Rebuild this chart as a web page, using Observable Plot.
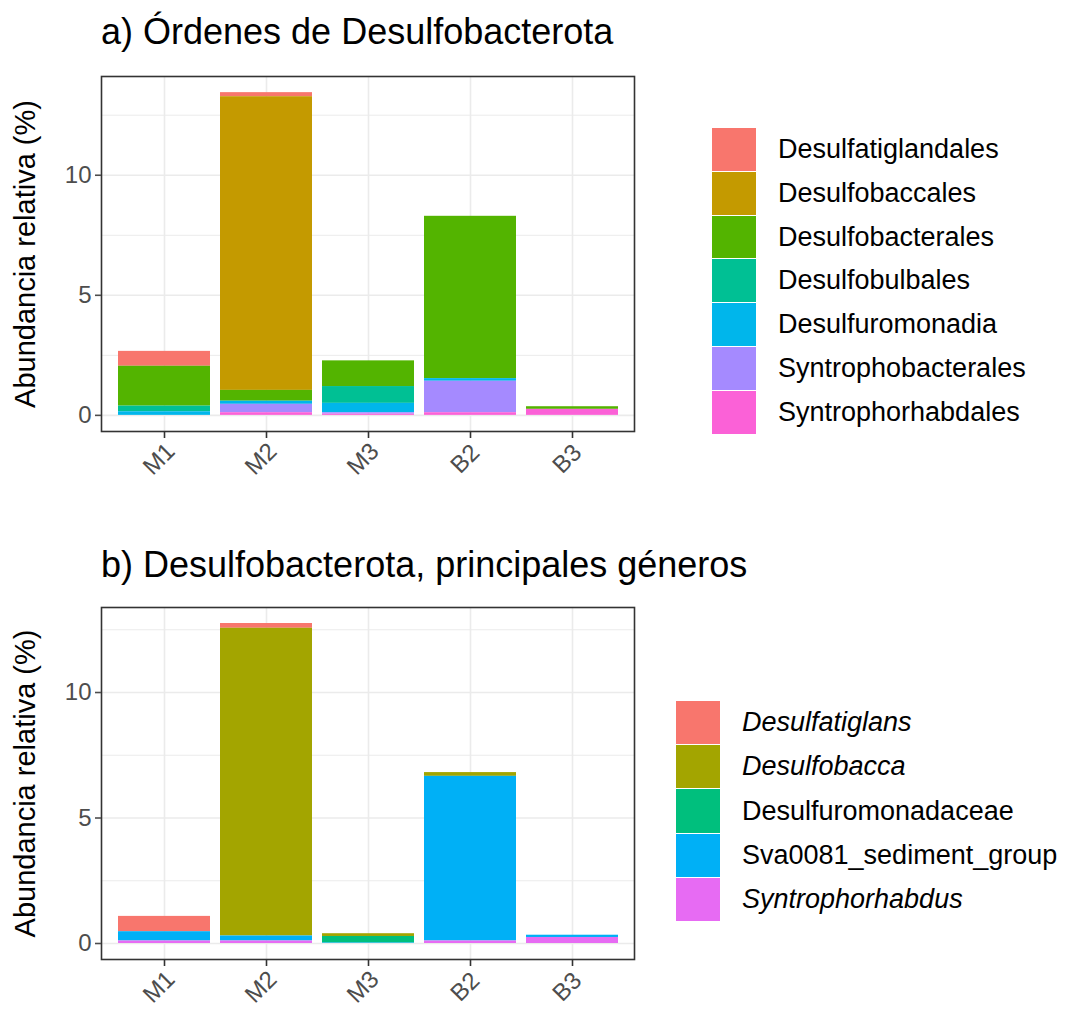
<!DOCTYPE html>
<html>
<head>
<meta charset="utf-8">
<script src="https://cdn.jsdelivr.net/npm/d3@7"></script>
<script src="https://cdn.jsdelivr.net/npm/@observablehq/plot@0.6"></script>
<style>
  html, body { margin: 0; padding: 0; background: #fff; }
  body { width: 1072px; height: 1012px; position: relative; overflow: hidden;
         font-family: "Liberation Sans", Arial, Helvetica, sans-serif; color: #000; }
  .title { position: absolute; font-size: 36px; line-height: 1; white-space: nowrap; }
  .plot { position: absolute; left: 0; }
  .sw { position: absolute; }
  .lab { position: absolute; font-size: 27px; line-height: 1; white-space: nowrap; }
</style>
</head>
<body>
<div id="titleA" class="title" style="left:101px; top:14px;">a) Órdenes de Desulfobacterota</div>
<div id="plotA" class="plot" style="top:60px;"></div>
<div id="legendA"></div>
<div id="titleB" class="title" style="left:101px; top:547px;">b) Desulfobacterota, principales géneros</div>
<div id="plotB" class="plot" style="top:590px;"></div>
<div id="legendB"></div>
<script>
// ---- data ----
const samples = ["M1", "M2", "M3", "B2", "B3"];

const ordenes = ["Desulfatiglandales", "Desulfobaccales", "Desulfobacterales", "Desulfobulbales",
                 "Desulfuromonadia", "Syntrophobacterales", "Syntrophorhabdales"];
// values per order, in sample order M1, M2, M3, B2, B3
const desulfatiglandales = [0.62, 0.17, 0, 0, 0];
const desulfobaccales    = [0, 12.23, 0, 0, 0];
const desulfobacterales  = [1.66, 0.45, 1.07, 6.76, 0.11];
const desulfobulbales    = [0.235, 0, 0.70, 0, 0];
const desulfuromonadia   = [0.15, 0.13, 0.39, 0.11, 0];
const syntrophobacterales = [0, 0.35, 0.06, 1.31, 0];
const syntrophorhabdales = [0, 0.11, 0.05, 0.11, 0.25];

const generos = ["Desulfatiglans", "Desulfobacca", "Desulfuromonadaceae",
                 "Sva0081_sediment_group", "Syntrophorhabdus"];
const generosItalic = [true, true, false, false, true];
const desulfatiglans = [0.61, 0.19, 0, 0, 0];
const desulfobacca   = [0, 12.26, 0.11, 0.15, 0];
const desulfuromonadaceae = [0, 0, 0.26, 0, 0];
const sva0081        = [0.37, 0.20, 0.02, 6.56, 0.09];
const syntrophorhabdus = [0.10, 0.10, 0, 0.10, 0.24];

const yTicks = [0, 5, 10];
const yMinor = [2.5, 7.5, 12.5];
const yLabel = "Abundancia relativa (%)";

// ---- styles ----
const palA = ["#F8766D", "#C49A00", "#53B400", "#00C094", "#00B6EB", "#A58AFF", "#FB61D7"];
const palB = ["#F8766D", "#A3A500", "#00BF7D", "#00B0F6", "#E76BF3"];

function tidy(groups, series) {
  const rows = [];
  groups.forEach((g, i) => samples.forEach((s, j) => rows.push({sample: s, group: g, value: series[i][j]})));
  return rows;
}

const rowsA = tidy(ordenes, [desulfatiglandales, desulfobaccales, desulfobacterales, desulfobulbales,
                             desulfuromonadia, syntrophobacterales, syntrophorhabdales]);
const rowsB = tidy(generos, [desulfatiglans, desulfobacca, desulfuromonadaceae, sva0081, syntrophorhabdus]);

function makePlot(rows, groups, pal, opts) {
  const totals = d3.rollup(rows, v => d3.sum(v, d => d.value), d => d.sample);
  const mx = d3.max(totals.values());
  const grid = "#EBEBEB";
  return Plot.plot({
    width: 650,
    height: opts.height,
    marginLeft: 101,
    marginRight: 16,
    marginTop: opts.marginTop,
    marginBottom: opts.marginBottom,
    style: {fontFamily: '"Liberation Sans", Arial, Helvetica, sans-serif', background: "white", overflow: "visible"},
    x: {domain: samples, paddingInner: 0.1, paddingOuter: 0.15, label: null},
    y: {domain: [-0.05 * mx, 1.05 * mx], label: null},
    color: {domain: groups, range: pal},
    marks: [
      Plot.gridY(yMinor, {stroke: grid, strokeOpacity: 1, strokeWidth: 1}),
      Plot.gridY(yTicks, {stroke: grid, strokeOpacity: 1, strokeWidth: 1.6}),
      Plot.gridX(samples, {stroke: grid, strokeOpacity: 1, strokeWidth: 1.6}),
      Plot.barY(rows, Plot.stackY({order: groups.slice().reverse()},
        {x: "sample", y: "value", fill: "group"})),
      Plot.frame({stroke: "#333333", strokeWidth: 1.6}),
      Plot.axisY(yTicks, {tickSize: 6, tickPadding: 4, fontSize: 24, color: "#4D4D4D", label: null, strokeWidth: 1.6}),
      Plot.axisX({tickSize: 7, tickFormat: () => "", color: "#333333", label: null, strokeWidth: 1.6}),
      Plot.text(samples, {x: d => d, frameAnchor: "bottom", dy: 33, rotate: -45, textAnchor: "middle",
        fontSize: 24, fill: "#4D4D4D", text: d => d}),
      Plot.text([yLabel], {frameAnchor: "left", rotate: -90, dx: -76, textAnchor: "middle",
        fontSize: 29, fill: "black", text: d => d})
    ]
  });
}

document.getElementById("plotA").appendChild(
  makePlot(rowsA, ordenes, palA, {height: 440, marginTop: 16, marginBottom: 69}));
document.getElementById("plotB").appendChild(
  makePlot(rowsB, generos, palB, {height: 420, marginTop: 17, marginBottom: 51}));

function legend(containerId, groups, pal, left, top, step, textLeft, italic) {
  const c = document.getElementById(containerId);
  groups.forEach((g, i) => {
    const sw = document.createElement("div");
    sw.className = "sw";
    sw.style.left = left + "px";
    sw.style.top = (top + i * step) + "px";
    sw.style.width = "44px";
    sw.style.height = (step - 1) + "px";
    sw.style.background = pal[i];
    c.appendChild(sw);
    const t = document.createElement("div");
    t.className = "lab";
    t.textContent = g;
    t.style.left = textLeft + "px";
    t.style.top = (top + i * step + step / 2 - 14) + "px";
    if (italic && italic[i]) t.style.fontStyle = "italic";
    c.appendChild(t);
  });
}
legend("legendA", ordenes, palA, 712, 128, 43.8, 778, null);
legend("legendB", generos, palB, 676, 701, 44.2, 742, generosItalic);
</script>
</body>
</html>
